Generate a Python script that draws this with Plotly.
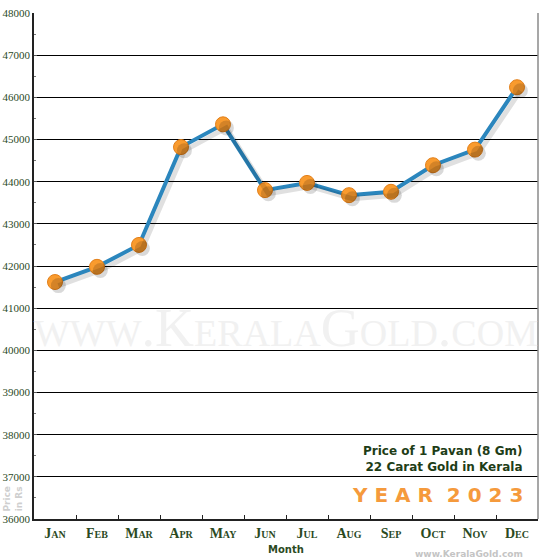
import plotly.graph_objects as go

# --- DATA ---
MONTHS = ["Jan", "Feb", "Mar", "Apr", "May", "Jun", "Jul", "Aug", "Sep", "Oct", "Nov", "Dec"]
PRICES = [41620, 41980, 42500, 44820, 45360, 43800, 43970, 43680, 43760, 44390, 44760, 46240]
Y_TICKS = list(range(36000, 48001, 1000))

GREEN = "#2b4a1f"
LINE_BLUE = "#2b86bd"
ORANGE = "#f99b2e"
Y_RANGE = [36000, 48000]
X_RANGE = [-0.5, 11.5]

fig = go.Figure()

# soft drop shadow: same data on twin axes nudged a few pixels right/down
fig.add_trace(go.Scatter(
    x=MONTHS, y=PRICES, mode="lines+markers", xaxis="x2", yaxis="y2",
    line=dict(color="rgba(0,0,0,0.12)", width=5),
    marker=dict(size=15, color="rgba(0,0,0,0.15)"),
    hoverinfo="skip", showlegend=False,
))
fig.add_trace(go.Scatter(
    x=MONTHS, y=PRICES, mode="lines+markers",
    line=dict(color=LINE_BLUE, width=4),
    marker=dict(size=15, color=ORANGE, line=dict(color="#e3801a", width=1)),
    hoverinfo="x+y", showlegend=False,
))

annotations = [
    # watermark
    dict(x=0.5, y=40520, xref="paper", yref="y", text="www.KeralaGold.com", showarrow=False,
         font=dict(family="Liberation Serif", size=54, color="#f1f1f1", variant="small-caps")),
    dict(x=0.975, y=37420, xref="paper", yref="y", xanchor="right", yanchor="middle",
         text="<b>Price of 1 Pavan (8 Gm)<br>22 Carat Gold in Kerala</b>", align="right",
         showarrow=False, font=dict(family="DejaVu Sans", size=12, color="#1e3d17")),
    dict(x=0.975, y=36560, xref="paper", yref="y", xanchor="right", yanchor="middle",
         text="<b>Y E A R  2 0 2 3</b>", showarrow=False,
         font=dict(family="DejaVu Sans", size=20, color="#f59a3c")),
    dict(x=0.5, y=-0.046, xref="paper", yref="paper", text="<b>Month</b>", showarrow=False,
         yanchor="top", font=dict(family="DejaVu Sans", size=10, color=GREEN)),
    dict(x=0.975, y=-0.055, xref="paper", yref="paper", xanchor="right", yanchor="top",
         text="<b>www.KeralaGold.com</b>", showarrow=False,
         font=dict(family="DejaVu Sans", size=9, color="#c4c4c4")),
    dict(x=-0.042, y=0.04, xref="paper", yref="paper", xanchor="center", yanchor="middle",
         text="<b>Price<br>in Rs</b>", textangle=-90,
         showarrow=False, font=dict(family="DejaVu Sans", size=9, color="#cfcfcf")),
]

fig.update_layout(
    width=550, height=560,
    margin=dict(l=34, r=12, t=13, b=41),
    paper_bgcolor="white", plot_bgcolor="white",
    annotations=annotations,
    shapes=[dict(type="line", xref="paper", yref="paper", x0=1, x1=1, y0=0, y1=1,
                 line=dict(color="#8a8a8a", width=1.5))],
    xaxis=dict(
        range=X_RANGE, showgrid=False, showline=True, linecolor="#222", linewidth=1.5,
        ticks="inside", ticklen=4, tickcolor="#222", tickson="boundaries",
        tickfont=dict(family="Liberation Serif", size=14, color=GREEN, weight="bold", variant="small-caps"),
        fixedrange=True, automargin=False,
    ),
    yaxis=dict(
        range=Y_RANGE, tickvals=Y_TICKS, ticktext=[str(v) for v in Y_TICKS],
        showgrid=True, gridcolor="black", gridwidth=1.3,
        showline=True, linecolor="#222", linewidth=1.5,
        ticks="inside", ticklen=3, tickcolor="#555",
        minor=dict(dtick=500, ticks="inside", ticklen=2, tickcolor="#777", showgrid=False),
        tickfont=dict(family="Liberation Serif", size=11, color=GREEN),
        fixedrange=True, zeroline=False, automargin=False,
    ),
    xaxis2=dict(range=[X_RANGE[0] - 0.08, X_RANGE[1] - 0.08], overlaying="x", visible=False,
                fixedrange=True),
    yaxis2=dict(range=[Y_RANGE[0] + 85, Y_RANGE[1] + 85], overlaying="y", visible=False,
                fixedrange=True),
)

# page body has a default margin; remove it so the figure sits at the window's corner
fig.write_html("out.html", config={"displayModeBar": False},
               post_script="document.body.style.margin='0';")
